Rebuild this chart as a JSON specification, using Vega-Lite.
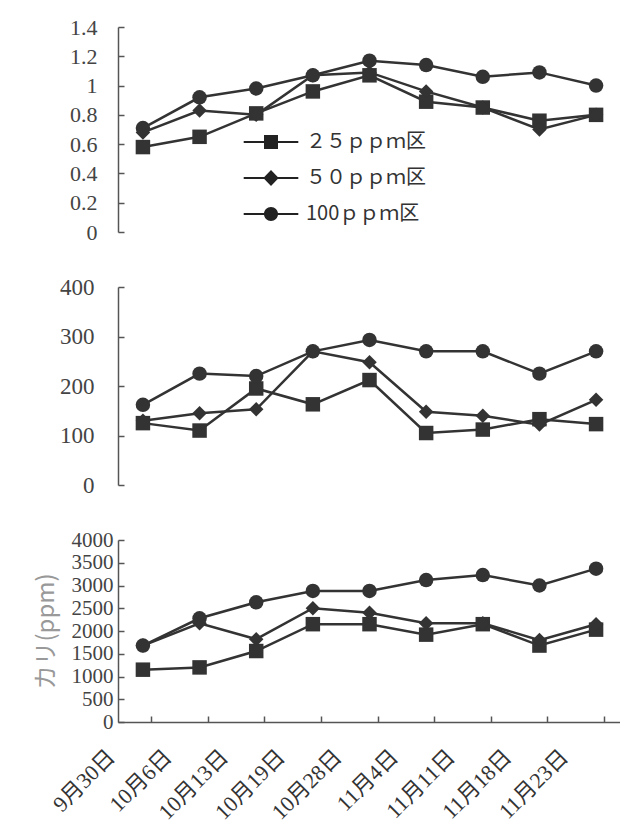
{
  "$schema": "https://vega.github.io/schema/vega-lite/v6.json",
  "background": "white",
  "padding": {"left": 33, "top": 16, "right": 0, "bottom": 0},
  "spacing": 55,
  "bounds": "flush",
  "config": {
    "view": {"stroke": null},
    "font": "Liberation Serif",
    "axis": {"domainColor": "#555", "tickColor": "#555", "labelColor": "#444", "grid": false, "domainWidth": 1.5, "tickWidth": 1.5}
  },
  "resolve": {"scale": {"shape": "independent", "y": "independent"}, "legend": {"shape": "independent"}},
  "data": {
    "values": [
      {"panel": 1, "date": "9月30日", "series": "２５ｐｐｍ区", "value": 0.58},
      {"panel": 1, "date": "10月6日", "series": "２５ｐｐｍ区", "value": 0.65},
      {"panel": 1, "date": "10月13日", "series": "２５ｐｐｍ区", "value": 0.81},
      {"panel": 1, "date": "10月19日", "series": "２５ｐｐｍ区", "value": 0.96},
      {"panel": 1, "date": "10月28日", "series": "２５ｐｐｍ区", "value": 1.07},
      {"panel": 1, "date": "11月4日", "series": "２５ｐｐｍ区", "value": 0.89},
      {"panel": 1, "date": "11月11日", "series": "２５ｐｐｍ区", "value": 0.85},
      {"panel": 1, "date": "11月18日", "series": "２５ｐｐｍ区", "value": 0.76},
      {"panel": 1, "date": "11月23日", "series": "２５ｐｐｍ区", "value": 0.80},
      {"panel": 1, "date": "9月30日", "series": "５０ｐｐｍ区", "value": 0.68},
      {"panel": 1, "date": "10月6日", "series": "５０ｐｐｍ区", "value": 0.83},
      {"panel": 1, "date": "10月13日", "series": "５０ｐｐｍ区", "value": 0.80},
      {"panel": 1, "date": "10月19日", "series": "５０ｐｐｍ区", "value": 1.07},
      {"panel": 1, "date": "10月28日", "series": "５０ｐｐｍ区", "value": 1.09},
      {"panel": 1, "date": "11月4日", "series": "５０ｐｐｍ区", "value": 0.96},
      {"panel": 1, "date": "11月11日", "series": "５０ｐｐｍ区", "value": 0.85},
      {"panel": 1, "date": "11月18日", "series": "５０ｐｐｍ区", "value": 0.70},
      {"panel": 1, "date": "11月23日", "series": "５０ｐｐｍ区", "value": 0.80},
      {"panel": 1, "date": "9月30日", "series": "100ｐｐｍ区", "value": 0.71},
      {"panel": 1, "date": "10月6日", "series": "100ｐｐｍ区", "value": 0.92},
      {"panel": 1, "date": "10月13日", "series": "100ｐｐｍ区", "value": 0.98},
      {"panel": 1, "date": "10月19日", "series": "100ｐｐｍ区", "value": 1.07},
      {"panel": 1, "date": "10月28日", "series": "100ｐｐｍ区", "value": 1.17},
      {"panel": 1, "date": "11月4日", "series": "100ｐｐｍ区", "value": 1.14},
      {"panel": 1, "date": "11月11日", "series": "100ｐｐｍ区", "value": 1.06},
      {"panel": 1, "date": "11月18日", "series": "100ｐｐｍ区", "value": 1.09},
      {"panel": 1, "date": "11月23日", "series": "100ｐｐｍ区", "value": 1.00},
      {"panel": 2, "date": "9月30日", "series": "２５ｐｐｍ区", "value": 125},
      {"panel": 2, "date": "10月6日", "series": "２５ｐｐｍ区", "value": 110},
      {"panel": 2, "date": "10月13日", "series": "２５ｐｐｍ区", "value": 195},
      {"panel": 2, "date": "10月19日", "series": "２５ｐｐｍ区", "value": 163},
      {"panel": 2, "date": "10月28日", "series": "２５ｐｐｍ区", "value": 212},
      {"panel": 2, "date": "11月4日", "series": "２５ｐｐｍ区", "value": 105},
      {"panel": 2, "date": "11月11日", "series": "２５ｐｐｍ区", "value": 112},
      {"panel": 2, "date": "11月18日", "series": "２５ｐｐｍ区", "value": 133},
      {"panel": 2, "date": "11月23日", "series": "２５ｐｐｍ区", "value": 123},
      {"panel": 2, "date": "9月30日", "series": "５０ｐｐｍ区", "value": 130},
      {"panel": 2, "date": "10月6日", "series": "５０ｐｐｍ区", "value": 145},
      {"panel": 2, "date": "10月13日", "series": "５０ｐｐｍ区", "value": 153},
      {"panel": 2, "date": "10月19日", "series": "５０ｐｐｍ区", "value": 270},
      {"panel": 2, "date": "10月28日", "series": "５０ｐｐｍ区", "value": 248},
      {"panel": 2, "date": "11月4日", "series": "５０ｐｐｍ区", "value": 148},
      {"panel": 2, "date": "11月11日", "series": "５０ｐｐｍ区", "value": 140},
      {"panel": 2, "date": "11月18日", "series": "５０ｐｐｍ区", "value": 122},
      {"panel": 2, "date": "11月23日", "series": "５０ｐｐｍ区", "value": 172},
      {"panel": 2, "date": "9月30日", "series": "100ｐｐｍ区", "value": 162},
      {"panel": 2, "date": "10月6日", "series": "100ｐｐｍ区", "value": 225},
      {"panel": 2, "date": "10月13日", "series": "100ｐｐｍ区", "value": 220},
      {"panel": 2, "date": "10月19日", "series": "100ｐｐｍ区", "value": 270},
      {"panel": 2, "date": "10月28日", "series": "100ｐｐｍ区", "value": 293},
      {"panel": 2, "date": "11月4日", "series": "100ｐｐｍ区", "value": 270},
      {"panel": 2, "date": "11月11日", "series": "100ｐｐｍ区", "value": 270},
      {"panel": 2, "date": "11月18日", "series": "100ｐｐｍ区", "value": 225},
      {"panel": 2, "date": "11月23日", "series": "100ｐｐｍ区", "value": 270},
      {"panel": 3, "date": "9月30日", "series": "２５ｐｐｍ区", "value": 1150},
      {"panel": 3, "date": "10月6日", "series": "２５ｐｐｍ区", "value": 1200},
      {"panel": 3, "date": "10月13日", "series": "２５ｐｐｍ区", "value": 1560},
      {"panel": 3, "date": "10月19日", "series": "２５ｐｐｍ区", "value": 2150},
      {"panel": 3, "date": "10月28日", "series": "２５ｐｐｍ区", "value": 2150},
      {"panel": 3, "date": "11月4日", "series": "２５ｐｐｍ区", "value": 1920},
      {"panel": 3, "date": "11月11日", "series": "２５ｐｐｍ区", "value": 2150},
      {"panel": 3, "date": "11月18日", "series": "２５ｐｐｍ区", "value": 1680},
      {"panel": 3, "date": "11月23日", "series": "２５ｐｐｍ区", "value": 2030},
      {"panel": 3, "date": "9月30日", "series": "５０ｐｐｍ区", "value": 1680},
      {"panel": 3, "date": "10月6日", "series": "５０ｐｐｍ区", "value": 2170},
      {"panel": 3, "date": "10月13日", "series": "５０ｐｐｍ区", "value": 1820},
      {"panel": 3, "date": "10月19日", "series": "５０ｐｐｍ区", "value": 2500},
      {"panel": 3, "date": "10月28日", "series": "５０ｐｐｍ区", "value": 2400},
      {"panel": 3, "date": "11月4日", "series": "５０ｐｐｍ区", "value": 2170},
      {"panel": 3, "date": "11月11日", "series": "５０ｐｐｍ区", "value": 2170},
      {"panel": 3, "date": "11月18日", "series": "５０ｐｐｍ区", "value": 1800},
      {"panel": 3, "date": "11月23日", "series": "５０ｐｐｍ区", "value": 2150},
      {"panel": 3, "date": "9月30日", "series": "100ｐｐｍ区", "value": 1680},
      {"panel": 3, "date": "10月6日", "series": "100ｐｐｍ区", "value": 2280},
      {"panel": 3, "date": "10月13日", "series": "100ｐｐｍ区", "value": 2630},
      {"panel": 3, "date": "10月19日", "series": "100ｐｐｍ区", "value": 2880},
      {"panel": 3, "date": "10月28日", "series": "100ｐｐｍ区", "value": 2880},
      {"panel": 3, "date": "11月4日", "series": "100ｐｐｍ区", "value": 3120},
      {"panel": 3, "date": "11月11日", "series": "100ｐｐｍ区", "value": 3230},
      {"panel": 3, "date": "11月18日", "series": "100ｐｐｍ区", "value": 3000},
      {"panel": 3, "date": "11月23日", "series": "100ｐｐｍ区", "value": 3370}
    ]
  },
  "vconcat": [
    {
      "width": 503,
      "height": 205,
      "transform": [{"filter": "datum.panel == 1"}],
      "resolve": {"scale": {"shape": "independent"}, "legend": {"shape": "independent"}},
      "encoding": {
        "x": {"field": "date", "type": "ordinal", "sort": null, "scale": {"type": "point", "padding": 0.44}, "axis": null},
        "y": {"field": "value", "type": "quantitative", "scale": {"domain": [0, 1.4], "nice": false}, "axis": {"title": null, "values": [0, 0.2, 0.4, 0.6, 0.8, 1, 1.2, 1.4], "format": "~g", "tickSize": -6, "labelPadding": 27, "labelFontSize": 22, "labelFont": "Liberation Serif"}}
      },
      "layer": [
        {"mark": {"type": "line", "color": "#333", "strokeWidth": 2.5}, "encoding": {"detail": {"field": "series"}}},
        {
          "mark": {"type": "point", "filled": true, "color": "#333", "opacity": 1, "size": 210},
          "encoding": {
            "shape": {"field": "series", "type": "nominal", "scale": {"domain": ["２５ｐｐｍ区", "５０ｐｐｍ区", "100ｐｐｍ区"], "range": ["square", "diamond", "circle"]}, "legend": null}
          }
        },
        {
          "transform": [{"filter": "false"}],
          "mark": {"type": "point", "filled": true, "color": "#222", "opacity": 1, "size": 196},
          "encoding": {
            "shape": {
              "field": "series", "type": "nominal", "sort": ["２５ｐｐｍ区", "５０ｐｐｍ区", "100ｐｐｍ区"],
              "scale": {"domain": ["２５ｐｐｍ区", "５０ｐｐｍ区", "100ｐｐｍ区"], "range": ["M-3.9,-0.15H3.9V0.15H-3.9ZM-1,-1H1V1H-1Z", "M-3.9,-0.15H3.9V0.15H-3.9ZM0,-1.15L1.1,0L0,1.15L-1.1,0Z", "M-3.9,-0.15H3.9V0.15H-3.9ZM1,0A1,1,0,1,1,-1,0A1,1,0,1,1,1,0Z"]},
              "legend": {
                "title": null, "orient": "none", "legendX": 143, "legendY": 105, "padding": 0,
                "symbolSize": 196, "symbolFillColor": "#222", "symbolOpacity": 1,
                "labelOffset": 25, "labelFontSize": 20, "labelFont": "Noto Sans CJK JP", "labelColor": "#333", "rowPadding": 14,
                "labelLimit": 300
              }
            }
          }
        }
      ]
    },
    {
      "width": 503,
      "height": 198,
      "transform": [{"filter": "datum.panel == 2"}],
      "encoding": {
        "x": {"field": "date", "type": "ordinal", "sort": null, "scale": {"type": "point", "padding": 0.44}, "axis": null},
        "y": {"field": "value", "type": "quantitative", "scale": {"domain": [0, 400], "nice": false}, "axis": {"title": null, "values": [0, 100, 200, 300, 400], "tickSize": -6, "labelPadding": 30, "labelFontSize": 23, "labelFont": "Liberation Serif"}}
      },
      "layer": [
        {"mark": {"type": "line", "color": "#333", "strokeWidth": 2.5}, "encoding": {"detail": {"field": "series"}}},
        {
          "mark": {"type": "point", "filled": true, "color": "#333", "opacity": 1, "size": 210},
          "encoding": {
            "shape": {"field": "series", "type": "nominal", "scale": {"domain": ["２５ｐｐｍ区", "５０ｐｐｍ区", "100ｐｐｍ区"], "range": ["square", "diamond", "circle"]}, "legend": null}
          }
        }
      ]
    },
    {
      "width": 503,
      "height": 182,
      "transform": [{"filter": "datum.panel == 3"}],
      "encoding": {
        "x": {"field": "date", "type": "ordinal", "sort": null, "scale": {"type": "point", "padding": 0.44},
          "axis": {"title": null, "tickSize": -6, "tickOffset": 8, "labelAngle": -45, "labelAlign": "right", "labelBaseline": "middle", "labelOffset": -40, "labelPadding": 37, "labelFontSize": 22, "labelFont": "Liberation Serif, Noto Sans CJK JP", "labelColor": "#333"}},
        "y": {"field": "value", "type": "quantitative", "scale": {"domain": [0, 4000], "nice": false}, "axis": {"title": "カリ(ppm)", "titleX": -60, "titleColor": "#999", "titleFontSize": 24, "titleFont": "Noto Sans CJK JP", "titleFontWeight": "normal", "format": "d", "values": [0, 500, 1000, 1500, 2000, 2500, 3000, 3500, 4000], "tickSize": -6, "labelPadding": 11, "labelFontSize": 21, "labelFont": "Liberation Serif"}}
      },
      "layer": [
        {"mark": {"type": "line", "color": "#333", "strokeWidth": 2.5}, "encoding": {"detail": {"field": "series"}}},
        {
          "mark": {"type": "point", "filled": true, "color": "#333", "opacity": 1, "size": 210},
          "encoding": {
            "shape": {"field": "series", "type": "nominal", "scale": {"domain": ["２５ｐｐｍ区", "５０ｐｐｍ区", "100ｐｐｍ区"], "range": ["square", "diamond", "circle"]}, "legend": null}
          }
        }
      ]
    }
  ]
}
